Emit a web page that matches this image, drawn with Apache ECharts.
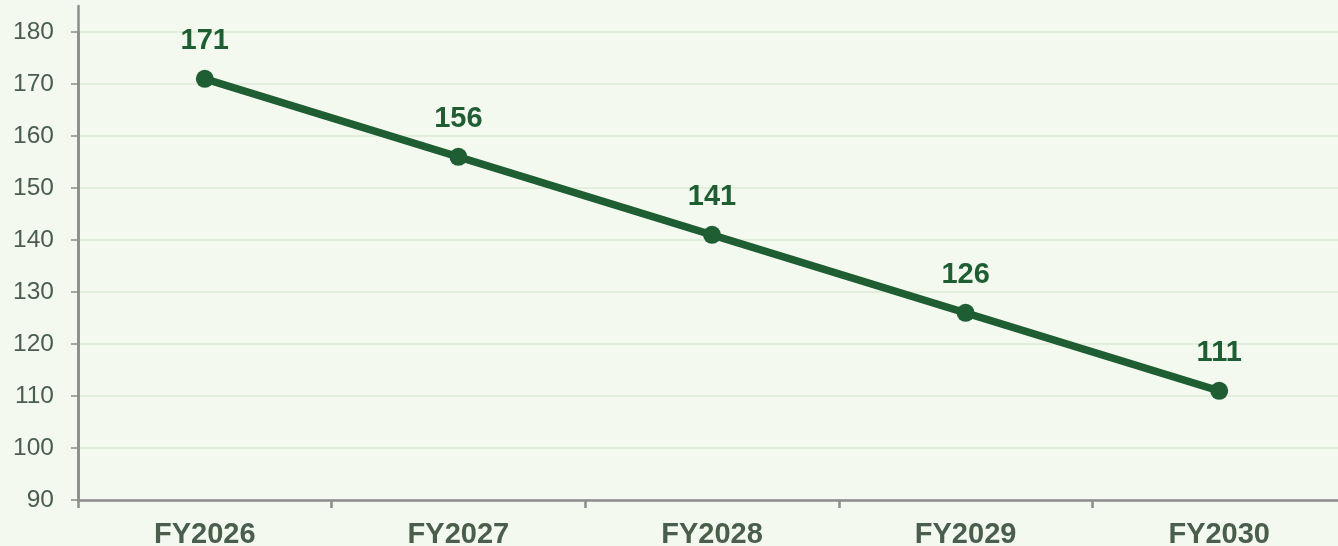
<!DOCTYPE html>
<html><head><meta charset="utf-8">
<style>html,body{margin:0;padding:0;background:#f4f9f0;}#c{width:1338px;height:546px;}</style>
<script src="https://cdn.jsdelivr.net/npm/echarts@6/dist/echarts.min.js"></script>
</head><body><div id="c"></div>
<script>
const categories = ['FY2026','FY2027','FY2028','FY2029','FY2030'];
const values = [171,156,141,126,111];
const yMin = 90, yMax = 180, yStep = 10;

const chart = echarts.init(document.getElementById('c'));
const font = 'Liberation Sans, Arial, sans-serif';
chart.setOption({
  backgroundColor: '#f4f9f0',
  animation: false,
  grid: [
    {left: 78, width: 1268, top: 32, bottom: 46, outerBoundsMode: 'none', containLabel: false},
    {left: 78, width: 1268, top: 6, bottom: 46, outerBoundsMode: 'none', containLabel: false}
  ],
  xAxis: [{
    type: 'category', data: categories, gridIndex: 0,
    boundaryGap: true,
    axisLine: {lineStyle: {color: '#8c8c8c', width: 2.5}},
    axisTick: {show: true, length: 8, lineStyle: {color: '#8c8c8c', width: 2.5}},
    axisLabel: {color: '#4a5e4c', fontSize: 29, fontWeight: 'bold', fontFamily: font, margin: 20}
  }, {
    type: 'category', data: categories, gridIndex: 1, show: false
  }],
  yAxis: [{
    type: 'value', gridIndex: 0, min: yMin, max: yMax, interval: yStep,
    axisLine: {show: true, lineStyle: {color: '#8c8c8c', width: 2.5}},
    axisTick: {show: true, length: 7, lineStyle: {color: '#8c8c8c', width: 1.5}},
    axisLabel: {color: '#4a5e4c', fontSize: 24.5, fontFamily: font, margin: 24},
    splitLine: {show: true, lineStyle: {color: '#dcebd6', width: 1.5}}
  }, {
    type: 'value', gridIndex: 1, min: yMin, max: yMax,
    axisLine: {show: true, lineStyle: {color: '#8c8c8c', width: 2.5}},
    axisTick: {show: false}, axisLabel: {show: false}, splitLine: {show: false}
  }],
  series: [{
    type: 'line', data: values, xAxisIndex: 0, yAxisIndex: 0,
    lineStyle: {color: '#1f5e33', width: 7.5},
    itemStyle: {color: '#1f5e33'},
    symbol: 'circle', symbolSize: 18,
    label: {show: true, position: 'top', distance: 14, color: '#1f5e33', fontSize: 29, fontWeight: 'bold', fontFamily: font}
  }]
});
</script></body></html>
